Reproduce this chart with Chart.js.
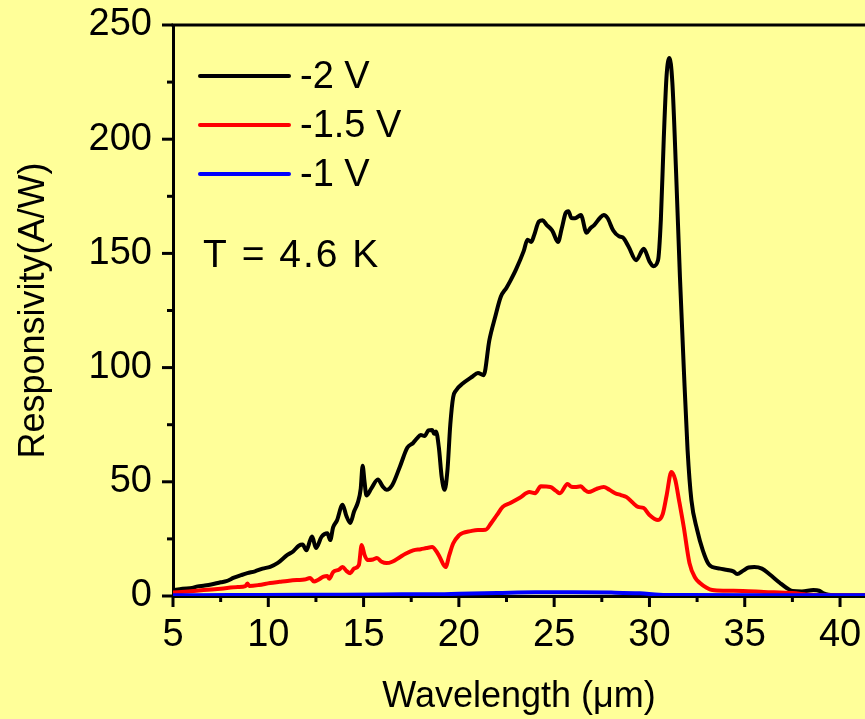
<!DOCTYPE html>
<html>
<head>
<meta charset="utf-8">
<script src="https://cdn.jsdelivr.net/npm/chart.js"></script>
<style>
  html, body { margin: 0; padding: 0; background: #ffff99; }
  #wrap { width: 865px; height: 719px; }
</style>
</head>
<body>
<div id="wrap"><canvas id="chart" width="865" height="719"></canvas></div>
<script>
// === Data ===
const xTicks = [5, 10, 15, 20, 25, 30, 35, 40];
const yTicks = [0, 50, 100, 150, 200, 250];
const xMinor = [7.5, 12.5, 17.5, 22.5, 27.5, 32.5, 37.5];
const yMinor = [25, 75, 125, 175, 225];

const seriesNames = ["-2 V", "-1.5 V", "-1 V"];
const seriesColors = ["#000000", "#ff0000", "#0000ff"];

// -2 V
const blackX = [5.0, 5.5, 6.0, 6.3, 6.6, 7.0, 7.5, 7.8, 8.2, 8.6, 8.9, 9.3, 9.7, 10.1, 10.5, 11.0, 11.3, 11.6, 11.8, 12.0,
  12.2, 12.3, 12.5, 12.8, 13.1, 13.25, 13.4, 13.6, 13.9, 14.1, 14.3, 14.5, 14.7, 14.85, 14.95, 15.05, 15.15, 15.4, 15.75, 16.0,
  16.2, 16.5, 16.9, 17.3, 17.6, 17.8, 18.0, 18.2, 18.4, 18.6, 18.7, 18.8, 18.95, 19.1, 19.25, 19.4, 19.55, 19.7, 19.85, 20.2,
  20.7, 21.0, 21.3, 21.6, 21.9, 22.2, 22.5, 22.7, 23.0, 23.4, 23.6, 23.8, 23.95, 24.2, 24.4, 24.6, 24.9, 25.2, 25.4, 25.6,
  25.75, 25.9, 26.1, 26.4, 26.7, 26.9, 27.1, 27.4, 27.6, 27.8, 28.1, 28.4, 28.6, 28.9, 29.3, 29.7, 30.0, 30.2, 30.45, 30.6,
  30.75, 30.9, 31.05, 31.2, 31.4, 31.6, 31.8, 32.0, 32.2, 32.5, 32.8, 33.1, 33.3, 33.7, 34.1, 34.4, 34.6, 34.9, 35.2, 35.5,
  35.9, 36.3, 36.85, 37.2, 37.5, 38.0, 38.6, 38.9, 39.1, 39.4, 40.0, 42.0];
const blackY = [2.5, 3.2, 3.5, 4.2, 4.5, 5.0, 6.0, 6.5, 8.0, 9.2, 10.0, 10.8, 12.0, 12.8, 14.5, 18.0, 19.5, 22.0, 22.5, 20.0,
  24.5, 26.0, 21.0, 26.0, 27.5, 24.5, 30.0, 33.0, 40.0, 35.0, 32.0, 37.0, 41.0, 47.0, 57.0, 50.0, 44.0, 47.0, 51.0, 48.0,
  46.5, 48.5, 56.5, 65.0, 67.0, 69.0, 70.5, 70.0, 72.5, 72.7, 71.0, 72.0, 65.0, 52.0, 46.5, 55.0, 75.0, 87.0, 90.0, 93.0,
  96.0, 97.6, 96.7, 112.0, 122.0, 131.0, 135.0, 138.0, 143.0, 151.0, 156.0, 155.0, 158.0, 164.0, 164.5, 162.5, 160.0, 155.0, 161.0, 167.6,
  168.5, 165.5, 165.4, 166.8, 159.0, 161.0, 162.4, 165.5, 166.8, 165.5, 160.0, 157.5, 157.0, 153.0, 147.0, 152.0, 146.5, 144.4, 147.0, 165.0,
  200.0, 228.0, 235.5, 225.0, 185.0, 139.6, 100.0, 64.0, 42.0, 29.0, 20.0, 14.0, 12.7, 12.0, 11.4, 10.8, 9.6, 11.0, 12.5, 12.7,
  12.0, 9.5, 5.7, 3.5, 2.2, 2.0, 2.6, 2.3, 1.3, 0.5, 0.3, 0.3];

// -1.5 V
const redX = [5.0, 5.8, 6.6, 7.5, 8.4, 8.8, 8.9, 9.0, 9.5, 10.1, 10.6, 11.0, 11.5, 11.9, 12.2, 12.4, 12.6, 12.9, 13.1, 13.2,
  13.4, 13.7, 13.9, 14.1, 14.3, 14.5, 14.75, 14.9, 15.05, 15.2, 15.5, 15.7, 15.95, 16.2, 16.5, 16.9, 17.2, 17.6, 18.0, 18.3,
  18.6, 18.8, 19.0, 19.3, 19.5, 19.7, 20.0, 20.2, 20.6, 21.0, 21.4, 21.7, 22.0, 22.3, 22.7, 23.2, 23.7, 24.0, 24.3, 24.8,
  25.1, 25.3, 25.7, 25.9, 26.1, 26.4, 26.6, 26.8, 27.2, 27.6, 27.9, 28.2, 28.5, 28.8, 29.1, 29.4, 29.7, 30.0, 30.45, 30.7,
  30.9, 31.15, 31.35, 31.55, 31.8, 32.1, 32.4, 32.65, 33.0, 33.3, 34.0, 34.9, 36.0, 37.5, 38.5, 40.0, 42.0];
const redY = [1.5, 2.0, 2.6, 3.2, 3.9, 4.3, 5.5, 4.4, 4.8, 5.7, 6.2, 6.6, 7.0, 7.2, 7.9, 6.3, 7.0, 8.5, 8.8, 7.5,
  10.5, 11.5, 12.7, 11.0, 10.0, 12.0, 13.5, 22.3, 18.0, 15.8, 16.0, 16.6, 15.0, 14.4, 15.0, 17.0, 18.5, 20.0, 20.5, 21.0,
  21.4, 19.8, 17.0, 12.7, 18.0, 23.0, 26.5, 27.6, 28.4, 28.9, 29.0, 32.0, 35.5, 39.0, 40.7, 43.0, 45.5, 45.0, 48.0, 47.7,
  46.0, 45.0, 49.0, 47.8, 47.7, 48.0, 46.5, 45.5, 46.8, 47.7, 46.5, 45.0, 44.2, 43.3, 41.0, 39.0, 38.5, 35.5, 33.3, 36.0,
  44.0, 54.3, 51.0, 42.0, 30.2, 14.4, 8.0, 5.7, 3.6, 2.6, 2.3, 2.2, 1.8, 1.3, 0.5, 0.3, 0.3];

// -1 V
const blueX = [5.0, 8.0, 12.0, 16.0, 19.0, 20.0, 22.0, 24.0, 26.0, 28.0, 29.5, 30.5, 32.0, 36.0, 42.0];
const blueY = [0.3, 0.4, 0.5, 0.7, 0.8, 1.0, 1.3, 1.6, 1.6, 1.5, 1.2, 0.6, 0.4, 0.3, 0.3];

const toPoints = (xs, ys) => xs.map((x, i) => ({ x: x, y: ys[i] }));
const fontFamily = "'Liberation Sans', Arial, sans-serif";

// === Decorations: ticks, top frame, legend, label ===
const decor = {
  id: "decor",
  afterDraw(chart) {
    const ctx = chart.ctx;
    const xs = chart.scales.x, ys = chart.scales.y;
    const a = chart.chartArea;
    ctx.save();
    ctx.strokeStyle = "#000";
    ctx.lineWidth = 3;
    const seg = (x1, y1, x2, y2) => { ctx.beginPath(); ctx.moveTo(x1, y1); ctx.lineTo(x2, y2); ctx.stroke(); };

    // top frame line
    seg(a.left - 1.5, a.top, a.right, a.top);

    yTicks.forEach(v => { const p = ys.getPixelForValue(v); seg(a.left - 11, p, a.left, p); });
    yMinor.forEach(v => { const p = ys.getPixelForValue(v); seg(a.left - 6, p, a.left, p); });
    xTicks.forEach(v => { const p = xs.getPixelForValue(v); seg(p, a.bottom, p, a.bottom + 11); });
    xMinor.forEach(v => { const p = xs.getPixelForValue(v); seg(p, a.bottom, p, a.bottom + 6); });

    // legend
    ctx.lineCap = "round";
    ctx.lineWidth = 4;
    ctx.font = "38px " + fontFamily;
    ctx.textBaseline = "middle";
    ctx.fillStyle = "#000";
    seriesNames.forEach((name, i) => {
      const yy = 76 + i * 49;
      ctx.strokeStyle = seriesColors[i];
      seg(200, yy, 289, yy);
      ctx.fillText(name, 300, yy + 2);
    });
    ctx.font = "39px " + fontFamily;
    ctx.letterSpacing = "2px";
    ctx.fillText("T = 4.6 K", 203, 256);
    ctx.restore();
  }
};

// === Chart ===
const lineStyle = { borderWidth: 4, pointRadius: 0, cubicInterpolationMode: "monotone", borderJoinStyle: "round", borderCapStyle: "round" };
const noPad = s => { s.paddingTop = 0; s.paddingBottom = 0; s.paddingLeft = 0; s.paddingRight = 0; };

new Chart(document.getElementById("chart"), {
  type: "line",
  data: {
    datasets: [
      { label: seriesNames[0], data: toPoints(blackX, blackY), borderColor: seriesColors[0], order: 3, ...lineStyle },
      { label: seriesNames[1], data: toPoints(redX, redY), borderColor: seriesColors[1], order: 2, ...lineStyle },
      { label: seriesNames[2], data: toPoints(blueX, blueY), borderColor: seriesColors[2], order: 1, ...lineStyle }
    ]
  },
  options: {
    responsive: false,
    animation: false,
    layout: { padding: { top: 25, right: 0, left: 0, bottom: 0 } },
    plugins: { legend: { display: false }, tooltip: { enabled: false } },
    scales: {
      x: {
        type: "linear",
        min: 5,
        max: 41.31,
        afterBuildTicks: s => { s.ticks = xTicks.map(v => ({ value: v })); },
        afterFit: s => { s.height = 123; noPad(s); },
        grid: { display: false, drawTicks: false },
        border: { display: true, color: "#000", width: 3 },
        ticks: { color: "#000", font: { family: fontFamily, size: 38 }, padding: 17, maxRotation: 0 },
        title: { display: true, text: "Wavelength (\u03bcm)", color: "#000", font: { family: fontFamily, size: 36 }, padding: { top: 4, bottom: 0 } }
      },
      y: {
        min: 0,
        max: 250,
        afterBuildTicks: s => { s.ticks = yTicks.map(v => ({ value: v })); },
        afterFit: s => { s.width = 173; noPad(s); },
        grid: { display: false, drawTicks: false },
        border: { display: true, color: "#000", width: 3 },
        ticks: { color: "#000", font: { family: fontFamily, size: 38 }, padding: 21 },
        title: { display: true, text: "Responsivity(A/W)", color: "#000", font: { family: fontFamily, size: 36 }, padding: { top: 12, bottom: 0 } }
      }
    }
  },
  plugins: [decor]
});
</script>
</body>
</html>
